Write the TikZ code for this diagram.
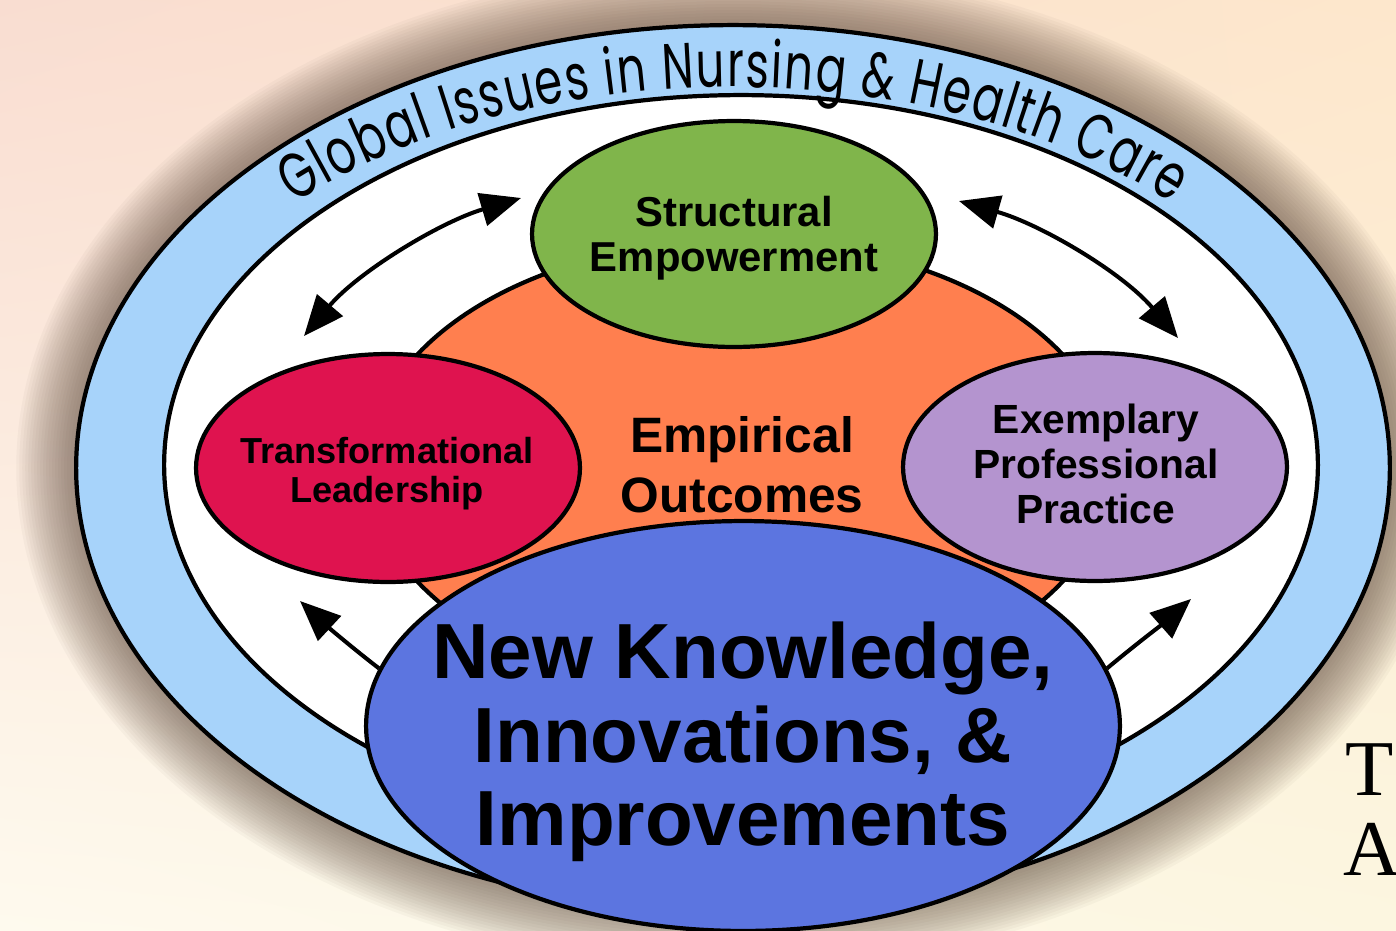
\documentclass[tikz,border=0pt]{standalone}
\usepackage{fontspec}
\setmainfont{Liberation Sans}
\newfontfamily\globalfont[FakeStretch=0.7]{Poppins}
\newfontfamily\serifletters{Liberation Serif}
\usetikzlibrary{shapes.geometric,arrows.meta,decorations.text,calc,shadings}
\definecolor{bgTL}{HTML}{F9DDD1}
\definecolor{bgTR}{HTML}{FDE7CC}
\definecolor{bgBL}{HTML}{FEFAEE}
\definecolor{bgBR}{HTML}{FCF6E0}
\definecolor{shadowc}{HTML}{5E4A3C}
\definecolor{bandblue}{HTML}{A7D3FA}
\definecolor{sgreen}{HTML}{80B54B}
\definecolor{tred}{HTML}{DF134F}
\definecolor{epurple}{HTML}{B494CF}
\definecolor{eorange}{HTML}{FF7F4F}
\definecolor{nblue}{HTML}{5C75E0}
\begin{document}
\begin{tikzpicture}[x=0.02cm,y=-0.02cm,
  bubble/.style={ellipse, draw=black, line width=2.4pt, inner sep=0pt},
  lab/.style={align=center, inner sep=0pt},
  link/.style={line width=2.3pt, arrows={Triangle[length=23pt,width=19pt]-Triangle[length=23pt,width=19pt]}},
  onelink/.style={line width=2.3pt, arrows={-Triangle[length=23pt,width=19pt]}}]
\useasboundingbox (0,0) rectangle (1396,930);
\clip (0,0) rectangle (1396,930);
\shade[upper left=bgTL, upper right=bgTR, lower left=bgBL, lower right=bgBR] (0,0) rectangle (1396,930);
% soft shadow around the outer ellipse
\foreach \k in {1,...,20}
  \draw[shadowc, line width=\k*3.4pt, opacity=0.04] (733,468) ellipse [x radius=657, y radius=443];
% rings
\node[bubble, fill=bandblue, minimum width=26.28cm, minimum height=17.72cm] (world) at (733,468) {};
\node[bubble, fill=white, minimum width=23.08cm, minimum height=14.8cm] (field) at (741,465) {};
\path[decorate, decoration={text along path, text align=fit to path,
  text={|\globalfont\fontsize{36.5pt}{36.5pt}\selectfont|Global Issues in Nursing {\&} Health Care}}]
  ($(733,468)+(224:610 and 381)$) arc[start angle=224, end angle=316, x radius=610, y radius=381];
% components
\node[bubble, fill=eorange, minimum width=14.88cm, minimum height=9.12cm] (outcomes) at (740,468) {};
\node[bubble, fill=sgreen, minimum width=8.08cm, minimum height=4.52cm] (struct) at (734,234) {};
\node[bubble, fill=tred, minimum width=7.68cm, minimum height=4.56cm] (lead) at (388,468) {};
\node[bubble, fill=epurple, minimum width=7.68cm, minimum height=4.56cm] (prof) at (1095,467) {};
\node[bubble, fill=nblue, minimum width=15.08cm, minimum height=8.2cm] (know) at (743,726) {};
% labels
\node[lab, font=\bfseries\fontsize{23.8pt}{25.5pt}\selectfont] (struct-t) at (734,238.5) {Structural\\Empowerment};
\node[lab, font=\bfseries\fontsize{20.6pt}{22.1pt}\selectfont] (lead-t) at (387,473.5) {Transformational\\Leadership};
\node[lab, font=\bfseries\fontsize{23.2pt}{25.5pt}\selectfont] (prof-t) at (1096,464) {Exemplary\\Professional\\Practice};
\node[lab, font=\bfseries\fontsize{28.3pt}{34pt}\selectfont] (outcomes-t) at (742,465) {Empirical\\Outcomes};
\node[lab, font=\bfseries\fontsize{44.5pt}{47.6pt}\selectfont] (know-t) at (743,742) {New Knowledge,\\Innovations, \&\\Improvements};
% arrows
\coordinate (tlA) at (304,336);
\coordinate (tlB) at (521,198);
\draw[link] (tlA) .. controls (358,272) and (440,222) .. (tlB);
\coordinate (trA) at (959,201);
\coordinate (trB) at (1178,338);
\draw[link] (trA) .. controls (1040,224) and (1122,272) .. (trB);
\coordinate (blT) at (300,601);
\draw[onelink] (know.171) .. controls (355,650) and (328,627) .. (blT);
\coordinate (brT) at (1191,599);
\draw[onelink] (know.9) .. controls (1135,645) and (1165,622) .. (brT);
% cropped serif letters at the right edge
\node[anchor=base west, inner sep=0pt, font=\serifletters\fontsize{45pt}{45pt}\selectfont] (edgeT) at (1345,795) {T};
\node[anchor=base west, inner sep=0pt, font=\serifletters\fontsize{45pt}{45pt}\selectfont] (edgeA) at (1343,875) {A};
\end{tikzpicture}
\end{document}
